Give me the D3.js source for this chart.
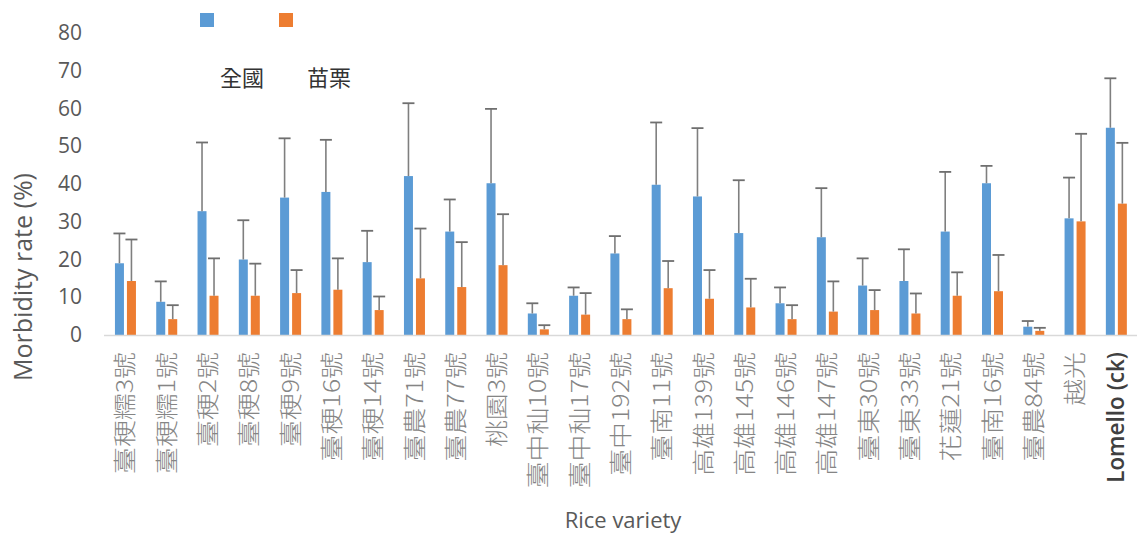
<!DOCTYPE html>
<html>
<head>
<meta charset="utf-8">
<script src="https://cdn.jsdelivr.net/npm/d3@7"></script>
<style>
  html, body { margin: 0; padding: 0; background: #fff; }
  svg { display: block; }
</style>
</head>
<body>
<svg id="chart" width="1138" height="535"></svg>
<script>
const categories = ["臺稉糯3號","臺稉糯1號","臺稉2號","臺稉8號","臺稉9號","臺稉16號","臺稉14號","臺農71號","臺農77號","桃園3號","臺中秈10號","臺中秈17號","臺中192號","臺南11號","高雄139號","高雄145號","高雄146號","高雄147號","臺東30號","臺東33號","花蓮21號","臺南16號","臺農84號","越光","Lomello (ck)"];
const seriesNames = ["全國","苗栗"];
const nationalValues = [19.0,8.8,32.8,20.0,36.4,37.9,19.3,42.1,27.4,40.2,5.7,10.4,21.6,39.8,36.7,27.0,8.4,25.9,13.1,14.3,27.4,40.2,2.2,30.9,54.9];
const nationalUpper  = [26.9,14.2,51.0,30.4,52.1,51.7,27.6,61.4,35.9,59.9,8.4,12.6,26.2,56.3,54.8,41.0,12.6,38.9,20.3,22.7,43.2,44.8,3.7,41.7,68.0];
const miaoliValues   = [14.3,4.2,10.4,10.4,11.1,12.0,6.6,15.0,12.7,18.5,1.5,5.4,4.2,12.4,9.6,7.3,4.2,6.2,6.6,5.7,10.4,11.6,1.1,30.1,34.8];
const miaoliUpper    = [25.3,7.9,20.3,18.9,17.2,20.3,10.2,28.2,24.6,32.0,2.6,11.1,6.8,19.6,17.2,14.9,7.9,14.2,11.9,11.0,16.6,21.2,1.9,53.3,50.9];
const yTicks = [0,10,20,30,40,50,60,70,80];
const yTitle = "Morbidity rate (%)";
const xTitle = "Rice variety";

const colors = ["#5B9BD5", "#ED7D31"];
const svg = d3.select("#chart");

const x = d3.scaleBand().domain(categories).range([104.8, 1137]).padding(0);
const x1 = d3.scaleBand().domain(seriesNames).range([-10.5, 10.5]).paddingInner(0.25).paddingOuter(0);
const y = d3.scaleLinear().domain([0, 80]).range([335, 33]);

const data = categories.map((c, i) => ({
  cat: c,
  vals: [
    { s: seriesNames[0], v: nationalValues[i], up: nationalUpper[i] },
    { s: seriesNames[1], v: miaoliValues[i], up: miaoliUpper[i] }
  ]
}));

// y axis labels
const yAxis = d3.axisLeft(y).tickValues(yTicks).tickSize(0).tickPadding(22);
const gy = svg.append("g").attr("transform", "translate(104,0)").call(yAxis);
gy.select(".domain").remove();
gy.selectAll("text")
  .attr("fill", "#595959")
  .style("font-family", "'Open Sans', sans-serif")
  .style("font-size", "21px");

// bars
const groups = svg.append("g").selectAll("g.cat").data(data).join("g")
  .attr("class", "cat")
  .attr("transform", d => `translate(${x(d.cat) + x.bandwidth() / 2},0)`);

groups.selectAll("rect").data(d => d.vals).join("rect")
  .attr("x", d => x1(d.s))
  .attr("width", x1.bandwidth())
  .attr("y", d => y(d.v))
  .attr("height", d => y(0) - y(d.v))
  .attr("fill", (d, i) => colors[i]);

// error bars (upper only)
const eb = groups.selectAll("g.err").data(d => d.vals).join("g").attr("class", "err");
eb.append("line")
  .attr("x1", d => x1(d.s) + x1.bandwidth() / 2)
  .attr("x2", d => x1(d.s) + x1.bandwidth() / 2)
  .attr("y1", d => y(d.v))
  .attr("y2", d => y(d.up))
  .attr("stroke", "#7f7f7f").attr("stroke-width", 1.6);
eb.append("line")
  .attr("x1", d => x1(d.s) + x1.bandwidth() / 2 - 6)
  .attr("x2", d => x1(d.s) + x1.bandwidth() / 2 + 6)
  .attr("y1", d => y(d.up))
  .attr("y2", d => y(d.up))
  .attr("stroke", "#6f6f6f").attr("stroke-width", 1.8);

// baseline
svg.append("line")
  .attr("x1", 104).attr("x2", 1137)
  .attr("y1", y(0) + 0.5).attr("y2", y(0) + 0.5)
  .attr("stroke", "#d9d9d9").attr("stroke-width", 1.5);

// x labels (rotated)
svg.append("g").selectAll("text").data(categories).join("text")
  .attr("transform", d => d.startsWith("Lomello")
    ? `translate(${x(d) + x.bandwidth() / 2},352) rotate(-90)`
    : `translate(${x(d) + x.bandwidth() / 2},352) rotate(-90) scale(1.17,1)`)
  .attr("text-anchor", "end")
  .attr("dy", "0.35em")
  .attr("fill", d => d.startsWith("Lomello") ? "#404040" : "#858585")
  .style("font-family", d => d.startsWith("Lomello") ? "'Open Sans', sans-serif" : "'Noto Sans CJK TC', sans-serif")
  .style("font-weight", d => d.startsWith("Lomello") ? "600" : "300")
  .style("font-size", d => d.startsWith("Lomello") ? "22.5px" : "23px")
  .text(d => d);

// axis titles
svg.append("text")
  .attr("transform", "translate(32,277) rotate(-90)")
  .attr("text-anchor", "middle")
  .attr("fill", "#595959")
  .style("font-family", "'Open Sans', sans-serif")
  .style("font-size", "25px")
  .text(yTitle);

svg.append("text")
  .attr("x", 623).attr("y", 528)
  .attr("text-anchor", "middle")
  .attr("fill", "#595959")
  .style("font-family", "'Open Sans', sans-serif")
  .style("font-size", "22px")
  .text(xTitle);

// legend
const legendSquares = [200, 279];
const legendTexts = [220, 307];
seriesNames.forEach((s, i) => {
  svg.append("rect")
    .attr("x", legendSquares[i]).attr("y", 13)
    .attr("width", 14).attr("height", 14)
    .attr("fill", colors[i]);
  svg.append("text")
    .attr("x", legendTexts[i]).attr("y", 86)
    .attr("fill", "#333")
    .style("font-family", "'Noto Sans CJK TC', sans-serif")
    .style("font-size", "22px")
    .text(s);
});
</script>
</body>
</html>
